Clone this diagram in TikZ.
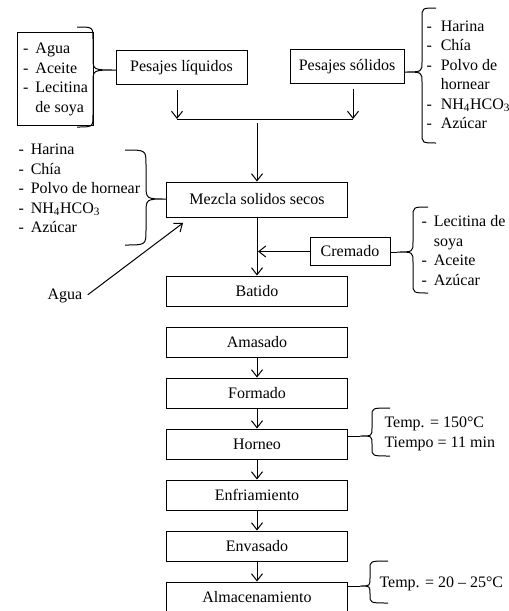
\documentclass[tikz,border=0pt]{standalone}
\usepackage{fontspec}
\setmainfont{Liberation Serif}
\usetikzlibrary{arrows.meta, positioning}

% curly brace: x ends, x body, x tip, y top, y tip, y bottom, curl
\newcommand{\curlbrace}[7]{%
  \draw (#1,#4) .. controls (#2,#4) .. (#2,#4+#7) -- (#2,#5-#7)
    .. controls (#2,#5) .. (#3,#5) .. controls (#2,#5) .. (#2,#5+#7)
    -- (#2,#6-#7) .. controls (#2,#6) .. (#1,#6);}

\begin{document}
\begin{tikzpicture}[
    x=1pt, y=-1pt,
    line width=1pt,
    node distance=20pt,
    font=\fontsize{16}{19.5}\selectfont,
    stage/.style={rectangle, minimum width=181pt, minimum height=30pt, inner sep=2pt, text centered, draw=black},
    weigh/.style={rectangle, minimum height=34pt, inner sep=3pt, text centered, draw=black},
    itemlist/.style={align=left, inner sep=0pt},
    arrow/.style={-{Straight Barb[length=7pt, width=11pt]}},
]
    \useasboundingbox (0,0) rectangle (509,611);

    % weighing
    \node (liquidos) [weigh, minimum width=131pt] at (181.5,67.5) {Pesajes líquidos};
    \node (solidos) [weigh, minimum width=114pt] at (347,66.5) {Pesajes sólidos};

    \node (liqlist) [draw=black, anchor=north west, minimum width=76pt, minimum height=93pt, inner sep=4pt] at (17,32)
        {\begin{tabular}{@{}l@{\hspace{7pt}}l@{}}- & Agua\\- & Aceite\\- & Lecitina\\ & de soya\end{tabular}};
    \node (sollist) [itemlist, anchor=west] at (426,76)
        {\begin{tabular}{@{}l@{\hspace{9pt}}l@{}}- & Harina\\- & Chía\\- & Polvo de\\ & hornear\\- & NH\textsubscript{4}HCO\textsubscript{3}\\- & Azúcar\end{tabular}};

    % main line
    \node (mezcla) [stage, minimum height=35pt] at (257,199.5) {Mezcla solidos secos};
    \node (cremado) [rectangle, draw=black, minimum width=80pt, minimum height=28pt] at (350,251.5) {Cremado};
    \node (batido) [stage, below=58pt of mezcla] {Batido};
    \node (amasado) [stage, below=of batido] {Amasado};
    \node (formado) [stage, below=of amasado] {Formado};
    \node (horneo) [stage, below=of formado] {Horneo};
    \node (enfriamiento) [stage, below=of horneo] {Enfriamiento};
    \node (envasado) [stage, below=of enfriamiento] {Envasado};
    \node (almacen) [stage, below=of envasado] {Almacenamiento};

    \node (mezlist) [itemlist, anchor=west] at (18,190)
        {\begin{tabular}{@{}l@{\hspace{7pt}}l@{}}- & Harina\\- & Chía\\- & Polvo de hornear\\- & NH\textsubscript{4}HCO\textsubscript{3}\\- & Azúcar\end{tabular}};
    \node (cremlist) [itemlist, anchor=west] at (421,252)
        {\begin{tabular}{@{}l@{\hspace{7pt}}l@{}}- & Lecitina de\\ & soya\\- & Aceite\\- & Azúcar\end{tabular}};
    \node (agua) at (65,296) {Agua};

    \node (horneotxt) [itemlist, anchor=west] at (384,434) {Temp. = 150°C\\Tiempo = 11 min};
    \node (almacentxt) [itemlist, anchor=west] at (379,584) {Temp. = 20 -- 25°C};

    % braces
    \curlbrace{77}{93}{116}{27}{70}{127}{12}
    \curlbrace{436}{422}{404}{8}{72}{143}{10}
    \curlbrace{125}{146}{166}{150}{199}{245}{15}
    \curlbrace{428}{413}{397}{207}{252}{293}{10}
    \curlbrace{390}{372}{360}{408}{436}{456}{8}
    \curlbrace{388}{370}{360}{561}{586}{603}{8}
    \coordinate (cremtip) at (397,252);
    \coordinate (horntip) at (360,436);
    \coordinate (almtip) at (360,586);
    \draw (cremado.east |- cremtip) -- (cremtip);
    \draw (horneo.east |- horntip) -- (horntip);
    \draw (almacen.east |- almtip) -- (almtip);

    % joining
    \coordinate (jl) at (177,119);
    \coordinate (jr) at (353,119);
    \coordinate (aguatip) at (183,223);
    \draw [arrow] ([yshift=-5pt]liquidos.south -| jl) -- (jl);
    \draw [arrow] ([yshift=-5pt]solidos.south -| jr) -- (jr);
    \draw (jl) -- (jr);
    \draw [arrow] ([yshift=-4pt]mezcla.north |- jl) -- (mezcla.north);
    \draw [arrow] (mezcla) -- (batido);
    \draw [arrow, shorten >=1pt] (cremado.west) -- (cremado.west -| mezcla.south);
    \draw [arrow, shorten <=2pt] (agua.east) -- (aguatip);

    \draw [arrow] (amasado) -- (formado);
    \draw [arrow] (formado) -- (horneo);
    \draw [arrow] (horneo) -- (enfriamiento);
    \draw [arrow] (enfriamiento) -- (envasado);
    \draw [arrow] (envasado) -- (almacen);

\end{tikzpicture}
\end{document}
